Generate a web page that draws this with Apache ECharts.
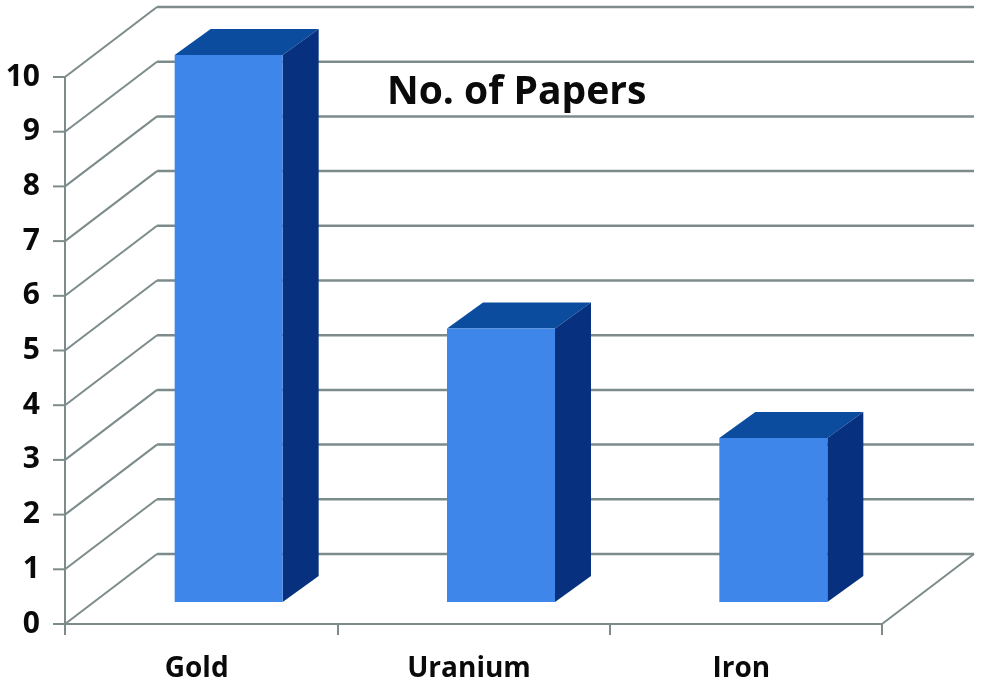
<!DOCTYPE html>
<html>
<head>
<meta charset="utf-8">
<style>
html, body { margin: 0; background: #fff; }
#chart { width: 981px; height: 688px; }
</style>
<script src="https://cdn.jsdelivr.net/npm/echarts@6/dist/echarts.min.js"></script>
</head>
<body>
<div id="chart"></div>
<script>
const categories = ['Gold', 'Uranium', 'Iron']
const papers = [10, 5, 3]
const yTicks = [0, 1, 2, 3, 4, 5, 6, 7, 8, 9, 10]

// depth of the fake 3D box
const wallDx = 92
const wallDy = -70
const barDx = 36
const barDy = -26
// bars stand a bit inside the floor
const barShiftX = 27.5
const barShiftY = -22
const barWidth = 108

const lineColor = '#7d8b8b'

const chart = echarts.init(document.getElementById('chart'))

const renderWall = (params, api) => {
  const sys = params.coordSys
  const y = api.coord([0, api.value(1)])[1]
  const x0 = sys.x
  const x1 = sys.x + wallDx
  const y1 = y + wallDy
  const children = [
    // tick left of the axis
    {
      type: 'line',
      shape: { x1: x0 - 12, y1: y, x2: x0, y2: y },
      style: { stroke: lineColor, lineWidth: 2 }
    },
    {
      type: 'line',
      shape: { x1: x0, y1: y, x2: x1, y2: y1 },
      style: { stroke: lineColor, lineWidth: 2 }
    },
    {
      type: 'line',
      shape: { x1: x1, y1: y1, x2: sys.x + sys.width + wallDx, y2: y1 },
      style: { stroke: lineColor, lineWidth: 2.5 }
    }
  ]
  // floor edge on the right
  if (api.value(1) === 0) {
    children.push({
      type: 'line',
      shape: { x1: sys.x + sys.width, y1: y, x2: sys.x + sys.width + wallDx, y2: y1 },
      style: { stroke: lineColor, lineWidth: 2 }
    })
  }
  return { type: 'group', children }
}

const renderBar = (params, api) => {
  const top = api.coord([api.value(0), api.value(1)])
  const bottom = api.coord([api.value(0), 0])
  const xl = top[0] + barShiftX - barWidth / 2
  const xr = xl + barWidth
  const yt = top[1] + barShiftY
  const yb = bottom[1] + barShiftY
  return {
    type: 'group',
    children: [
      {
        type: 'polygon',
        shape: { points: [[xl, yt], [xr, yt], [xr + barDx, yt + barDy], [xl + barDx, yt + barDy]] },
        style: { fill: '#0b4c9f' }
      },
      {
        type: 'polygon',
        shape: { points: [[xr, yt], [xr + barDx, yt + barDy], [xr + barDx, yb + barDy], [xr, yb]] },
        style: { fill: '#07317f' }
      },
      {
        type: 'rect',
        shape: { x: xl, y: yt, width: barWidth, height: yb - yt },
        style: { fill: '#3f86ea' }
      }
    ]
  }
}

const option = {
  animation: false,
  backgroundColor: '#fff',
  title: {
    text: 'No. of Papers',
    left: 382,
    top: 68,
    textStyle: {
      fontFamily: 'Open Sans',
      fontWeight: 'bold',
      fontSize: 39,
      color: '#0a0a0a'
    }
  },
  grid: {
    left: 65,
    right: 99,
    top: 77,
    bottom: 64
  },
  xAxis: {
    type: 'category',
    data: categories,
    axisLine: { lineStyle: { color: lineColor, width: 2 } },
    axisTick: { show: true, alignWithLabel: false, length: 11, lineStyle: { color: lineColor, width: 2 } },
    axisLabel: {
      margin: 31,
      padding: [0, 9, 0, 0],
      fontFamily: 'Open Sans',
      fontWeight: 'bold',
      fontSize: 28,
      color: '#0a0a0a'
    }
  },
  yAxis: {
    type: 'value',
    min: 0,
    max: 10,
    interval: 1,
    splitLine: { show: false },
    axisLine: { show: true, lineStyle: { color: lineColor, width: 2 } },
    axisTick: { show: false },
    axisLabel: {
      margin: 25,
      padding: [2, 0, 0, 0],
      fontFamily: 'Open Sans',
      fontWeight: 'bold',
      fontSize: 30,
      color: '#0a0a0a'
    }
  },
  series: [
    {
      type: 'custom',
      renderItem: renderWall,
      clip: false,
      z: 1,
      data: yTicks.map((v) => [0, v])
    },
    {
      type: 'custom',
      renderItem: renderBar,
      clip: false,
      z: 3,
      data: papers.map((v, i) => [i, v])
    }
  ]
}

chart.setOption(option)
</script>
</body>
</html>
